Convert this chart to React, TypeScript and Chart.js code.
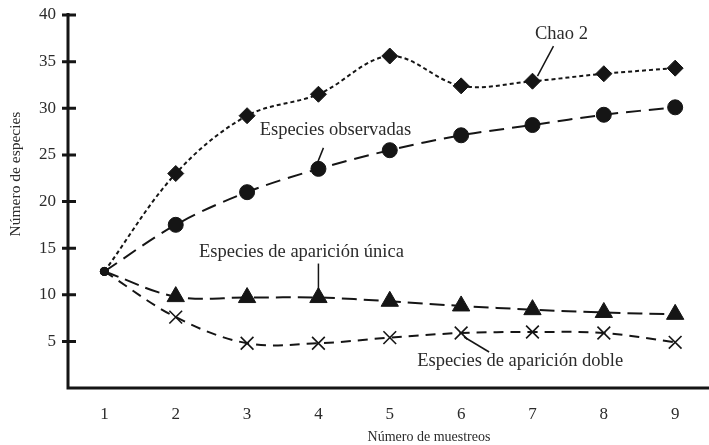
import React, { useEffect, useRef } from "react";
import { Chart, registerables } from "chart.js";

Chart.register(...registerables);

const samples = [1, 2, 3, 4, 5, 6, 7, 8, 9];
const chao2 = [12.5, 23.0, 29.2, 31.5, 35.6, 32.4, 32.9, 33.7, 34.3];
const observadas = [12.5, 17.5, 21.0, 23.5, 25.5, 27.1, 28.2, 29.3, 30.1];
const unica = [12.5, 9.8, 9.7, 9.7, 9.3, 8.8, 8.4, 8.1, 7.9];
const doble = [12.5, 7.6, 4.8, 4.8, 5.4, 5.9, 6.0, 5.9, 4.9];
const yTicks = [5, 10, 15, 20, 25, 30, 35, 40];

const seriesLabels = ["Chao 2", "Especies observadas", "Especies de aparición única", "Especies de aparición doble"];
const xTitle = "Número de muestreos";
const yTitle = "Número de especies";

const SERIF = '"Liberation Serif", "Times New Roman", serif';
const TEXT = "#2b2b2b";
const INK = "#151515";

function pts(values: number[]) {
  return samples.map((x, i) => ({ x, y: values[i] }));
}

function styleArr<T>(first: T, rest: T): T[] {
  return samples.map((_, i) => (i === 0 ? first : rest));
}

const overlay = {
  id: "overlay",
  afterDraw(chart: any) {
    const ctx = chart.ctx as CanvasRenderingContext2D;
    const xs = chart.scales.x;
    const ys = chart.scales.y;
    const area = chart.chartArea;
    ctx.save();
    // axes
    ctx.strokeStyle = INK;
    ctx.lineWidth = 3;
    ctx.lineCap = "butt";
    ctx.beginPath();
    ctx.moveTo(area.left, ys.getPixelForValue(40) - 2);
    ctx.lineTo(area.left, area.bottom + 1.5);
    ctx.moveTo(area.left - 1.5, area.bottom);
    ctx.lineTo(chart.width, area.bottom);
    ctx.stroke();
    // y tick marks crossing the axis
    ctx.beginPath();
    yTicks.forEach((v) => {
      const y = ys.getPixelForValue(v);
      ctx.moveTo(area.left - 6, y);
      ctx.lineTo(area.left + 8, y);
    });
    ctx.stroke();

    // titles
    ctx.fillStyle = TEXT;
    ctx.font = `14px ${SERIF}`;
    ctx.textAlign = "center";
    ctx.textBaseline = "middle";
    ctx.fillText(xTitle, 429, 437);
    ctx.save();
    ctx.translate(16, 174);
    ctx.rotate(-Math.PI / 2);
    ctx.font = `15.5px ${SERIF}`;
    ctx.fillText(yTitle, 0, 0);
    ctx.restore();

    // annotations anchored to data points
    const anns = [
      { ds: 0, idx: 6, l1: [21, -35], l2: [5, -5], t: [29, -47] },
      { ds: 1, idx: 3, l1: [5, -21], l2: [-1, -6], t: [17, -39] },
      { ds: 2, idx: 3, l1: [0, -34], l2: [0, -7], t: [-17, -45] },
      { ds: 3, idx: 5, l1: [28, 19], l2: [3, 4], t: [59, 28] },
    ];
    ctx.font = `18.5px ${SERIF}`;
    anns.forEach((a) => {
      const d = chart.data.datasets[a.ds].data[a.idx];
      const px = xs.getPixelForValue(d.x);
      const py = ys.getPixelForValue(d.y);
      ctx.strokeStyle = INK;
      ctx.lineWidth = 1.5;
      ctx.beginPath();
      ctx.moveTo(px + a.l1[0], py + a.l1[1]);
      ctx.lineTo(px + a.l2[0], py + a.l2[1]);
      ctx.stroke();
      ctx.fillStyle = TEXT;
      ctx.fillText(seriesLabels[a.ds], px + a.t[0], py + a.t[1]);
    });
    ctx.restore();
  },
};

export default function App() {
  const ref = useRef<HTMLCanvasElement>(null);
  useEffect(() => {
    if (!ref.current) return;
    const common = {
      borderColor: INK,
      backgroundColor: INK,
      pointBackgroundColor: INK,
      pointBorderColor: INK,
      borderWidth: 2,
      tension: 0.35,
      fill: false,
    };
    const chart = new Chart(ref.current, {
      type: "line",
      data: {
        datasets: [
          {
            ...common,
            label: seriesLabels[0],
            data: pts(chao2),
            borderDash: [4, 3],
            pointStyle: styleArr<any>("circle", "rectRot"),
            pointRadius: styleArr(4, 8),
            pointBorderWidth: 1,
          },
          {
            ...common,
            label: seriesLabels[1],
            data: pts(observadas),
            borderDash: [15, 8],
            pointStyle: "circle",
            pointRadius: styleArr(4, 7.5),
            pointBorderWidth: 1,
          },
          {
            ...common,
            label: seriesLabels[2],
            data: pts(unica),
            borderDash: [15, 7],
            pointStyle: styleArr<any>("circle", "triangle"),
            pointRadius: styleArr(4, 10),
            pointBorderWidth: 1,
          },
          {
            ...common,
            label: seriesLabels[3],
            data: pts(doble),
            borderDash: [10, 7],
            pointStyle: styleArr<any>("circle", "crossRot"),
            pointRadius: styleArr(4, 9),
            pointBorderWidth: styleArr(1, 1.6),
            pointBackgroundColor: INK,
          },
        ],
      },
      options: {
        animation: false,
        responsive: false,
        events: [],
        layout: { padding: { top: 15, right: 0, left: 0, bottom: 0 } },
        plugins: { legend: { display: false }, tooltip: { enabled: false } },
        scales: {
          x: {
            type: "linear",
            min: 0.49,
            max: 9.32,
            grid: { display: false },
            border: { display: false },
            ticks: { color: TEXT, font: { family: SERIF, size: 17 }, padding: 8 },
            afterBuildTicks: (s: any) => {
              s.ticks = samples.map((v) => ({ value: v }));
            },
            afterFit: (s: any) => {
              s.height = 57;
              s.paddingLeft = 0;
              s.paddingRight = 0;
            },
          },
          y: {
            type: "linear",
            min: 0,
            max: 40,
            grid: { display: false },
            border: { display: false },
            ticks: { color: TEXT, font: { family: SERIF, size: 17 }, padding: 4 },
            afterBuildTicks: (s: any) => {
              s.ticks = yTicks.map((v) => ({ value: v }));
            },
            afterFit: (s: any) => {
              s.width = 68;
              s.paddingTop = 0;
              s.paddingBottom = 0;
            },
          },
        },
      },
      plugins: [overlay],
    });
    return () => chart.destroy();
  }, []);
  return (
    <div style={{ position: "absolute", left: 0, top: 0, width: 709, height: 445, background: "#fff" }}>
      <canvas ref={ref} width={709} height={445} style={{ display: "block" }} />
    </div>
  );
}
